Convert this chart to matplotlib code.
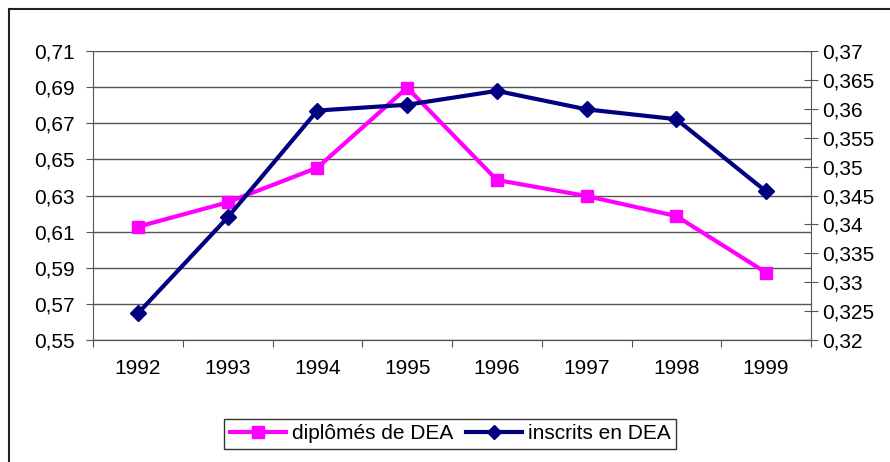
import matplotlib.pyplot as plt
from matplotlib.lines import Line2D
from matplotlib.ticker import FuncFormatter

plt.rcParams['font.family'] = ['Liberation Sans', 'DejaVu Sans']

# données
annees = ["1992", "1993", "1994", "1995", "1996", "1997", "1998", "1999"]
diplomes = [0.6127, 0.6262, 0.6454, 0.6897, 0.6386, 0.6297, 0.6186, 0.5873]
inscrits = [0.3246, 0.3412, 0.3597, 0.3607, 0.3631, 0.3599, 0.3582, 0.3457]

gauche_ticks = [0.55, 0.57, 0.59, 0.61, 0.63, 0.65, 0.67, 0.69, 0.71]
droite_ticks = [0.32, 0.325, 0.33, 0.335, 0.34, 0.345, 0.35, 0.355, 0.36, 0.365, 0.37]


def virgule(v, pos=None):
    return f"{round(v, 4):g}".replace('.', ',')


fig = plt.figure(figsize=(8.9, 4.62), dpi=100)
ax = fig.add_axes([93 / 890, 122 / 462, 718 / 890, 289 / 462])
ax2 = ax.twinx()

x = list(range(len(annees)))
l1, = ax.plot(x, diplomes, color='#FF00FF', lw=3, marker='s', ms=9,
              label='diplômés de DEA', zorder=3)
l2, = ax2.plot(x, inscrits, color='#000080', lw=3, marker='D', ms=8,
               label='inscrits en DEA', zorder=3)

ax.set_xlim(-0.5, len(annees) - 0.5)
ax.set_ylim(0.55, 0.71)
ax2.set_ylim(0.32, 0.37)

# axe x : graduations entre catégories, étiquettes au centre
ax.set_xticks([i - 0.5 for i in range(len(annees) + 1)])
ax.set_xticklabels([])
ax.set_xticks(x, minor=True)
ax.set_xticklabels(annees, minor=True)
ax.tick_params(axis='x', which='major', length=5, color='#555555', direction='out')
ax.tick_params(axis='x', which='minor', length=0, pad=14, labelsize=15)

ax.set_yticks(gauche_ticks)
ax.yaxis.set_major_formatter(FuncFormatter(virgule))
ax.tick_params(axis='y', length=5, color='#555555', labelsize=15, pad=8)

ax2.set_yticks(droite_ticks)
ax2.yaxis.set_major_formatter(FuncFormatter(virgule))
ax2.tick_params(axis='y', direction='inout', length=10, color='#555555',
                labelsize=15, pad=3)

ax.grid(axis='y', color='#555555', lw=1)
ax.set_axisbelow(True)

for a in (ax, ax2):
    a.spines['top'].set_visible(False)
    for s in ('left', 'right', 'bottom'):
        a.spines[s].set_color('#555555')
ax2.spines['left'].set_visible(False)
ax.spines['right'].set_visible(False)

fig.legend(handles=[l1, l2], loc='center', bbox_to_anchor=(0.506, 0.061),
           ncol=2, fontsize=15, frameon=True, fancybox=False, edgecolor='black',
           handlelength=2.7, columnspacing=0.6, handletextpad=0.3,
           borderpad=0.25, markerscale=0.9)

# cadre extérieur
fig.add_artist(Line2D([9 / 890, 1.0], [453 / 462, 453 / 462], color='#222222', lw=1.5))
fig.add_artist(Line2D([9 / 890, 9 / 890], [0, 453 / 462], color='#222222', lw=1.5))

plt.savefig("out.png", dpi=100)
